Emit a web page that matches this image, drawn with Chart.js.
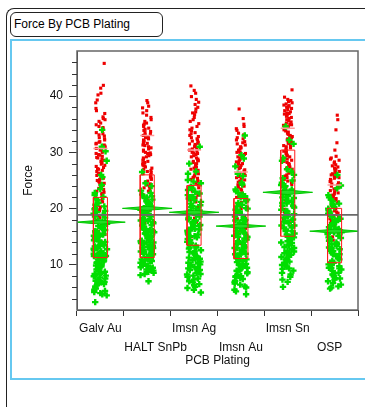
<!DOCTYPE html>
<html>
<head>
<meta charset="utf-8">
<script src="https://cdn.jsdelivr.net/npm/chart.js@4.4.1/dist/chart.umd.min.js"></script>
<style>
  body{margin:0;background:#fff;font-family:"Liberation Sans",Arial,sans-serif;}
  #wrap{position:relative;width:365px;height:407px;overflow:hidden;}
  #outer{position:absolute;left:6px;top:8px;width:420px;height:430px;border-left:1px solid #222;border-top:1px solid #222;border-top-left-radius:8px;}
  #ttl{position:absolute;left:10px;top:12px;width:148px;height:23px;border:1px solid #222;border-radius:6px;font-size:12px;line-height:23px;padding-left:3px;color:#000;}
  #panel{position:absolute;left:10px;top:39px;width:420px;height:337px;border:2px solid #66c8f0;}
  #box{position:absolute;left:0;top:0;width:365px;height:407px;}
</style>
</head>
<body>
<div id="wrap">
  <div id="outer"></div>
  <div id="ttl">Force By PCB Plating</div>
  <div id="panel"></div>
  <div id="box"><canvas id="myChart"></canvas></div>
</div>
<script>
var categories = ["Galv Au", "HALT SnPb", "Imsn Ag", "Imsn Au", "Imsn Sn", "OSP"]
var tickLabels = [["Galv Au", ""], ["", "     HALT SnPb"], ["Imsn Ag", ""], ["", "Imsn Au"], ["Imsn Sn", ""], ["", "OSP   "]]
var yMin = 2
var yMax = 48

var galvRed = [45.8, 41.9, 41.4, 40.5, 40.2, 39.3, 38.8, 37.8, 37.4, 36.3, 35.8, 35.5, 34.9, 34.2, 33.8, 33.5, 33.1, 32.6, 32.2, 31.8, 31.5, 31.1, 30.7, 30.4, 30.0, 29.6, 29.3, 29.0, 28.6, 28.2, 27.9, 27.5, 27.0, 26.6, 26.1, 25.7, 25.2, 24.8, 24.3, 23.9, 23.4, 22.9, 22.5, 21.8, 21.2, 20.6, 19.9, 19.2, 18.4, 17.6, 16.5, 15.4, 14.2,
    36.9, 36.0, 35.2, 34.6, 33.3, 32.9, 32.4, 31.9, 31.3, 30.9, 30.2, 29.8, 29.1, 28.8, 28.4, 27.7, 27.3, 26.8, 26.3, 25.9, 25.4, 25.0, 24.5, 24.1, 23.6, 23.1, 22.7, 22.2, 21.5, 20.9, 20.3, 19.6, 18.8, 18.0, 17.1, 16.0, 14.8, 13.0, 12.0, 34.4, 31.6, 29.5, 27.1, 24.6]
var galvGreen = [34.0, 31.0, 28.5, 26.0, 24.2, 23.5, 22.8, 22.1, 21.5, 21.0, 20.4, 19.9, 19.4, 18.9, 18.4, 17.9, 17.5, 17.0, 16.6, 16.2, 15.8, 15.4, 15.0, 14.6, 14.2, 13.8, 13.4, 13.0, 12.6, 12.2, 11.8, 11.4, 11.0, 10.6, 10.2, 9.8, 9.4, 9.0, 8.6, 8.2, 7.8, 7.4, 7.0, 6.6, 6.2, 5.8, 5.4, 5.0, 4.6, 3.4, 16.9, 15.1, 13.3, 12.1, 10.9, 9.7, 8.4, 7.1, 14.4, 11.6,
    21.8, 20.7, 19.6, 18.6, 17.7, 16.8, 16.4, 16.0, 15.6, 15.2, 14.8, 14.0, 13.6, 13.2, 12.8, 12.4, 12.0, 11.6, 11.2, 10.8, 10.4, 10.0, 9.6, 9.2, 8.8, 8.4, 8.0, 7.6, 7.2, 6.8, 6.4, 6.0, 5.6, 5.2, 4.8, 17.3, 15.9, 14.1, 12.9, 11.7, 10.5, 9.3, 8.1, 6.9, 19.1, 20.1, 22.4, 25.6, 30.2, 13.5, 11.3, 9.9]
var haltRed = [39.2, 38.8, 37.9, 37.0, 36.2, 35.5, 35.0, 34.6, 34.1, 33.7, 33.2, 32.8, 32.4, 32.0, 31.6, 31.2, 30.8, 30.4, 30.0, 29.6, 29.2, 28.8, 28.4, 27.9, 27.6, 27.2, 26.8, 26.4, 26.0, 25.6, 25.2, 24.7, 24.2, 23.7, 23.1, 22.5, 21.8, 21.0, 20.2, 19.3, 18.4, 17.4,
    38.2, 37.4, 36.6, 35.8, 35.2, 34.8, 34.3, 33.9, 33.5, 33.0, 32.6, 32.2, 31.8, 31.4, 31.0, 30.6, 30.2, 29.8, 29.4, 29.0, 28.6, 28.2, 27.7, 27.4, 27.0, 26.6, 26.2, 25.8, 25.4, 24.9, 24.4, 23.9, 23.4, 22.8, 22.1, 21.4, 20.6, 19.7, 18.8, 17.9, 16.5, 15.2, 33.1, 31.3, 29.9, 28.1]
var haltGreen = [26.5, 24.0, 23.2, 22.5, 21.9, 21.3, 20.8, 20.3, 19.8, 19.3, 18.8, 18.3, 17.8, 17.4, 17.0, 16.6, 16.2, 15.8, 15.4, 15.0, 14.6, 14.2, 13.8, 13.4, 13.0, 12.6, 12.2, 11.8, 11.4, 11.0, 10.6, 10.2, 9.8, 9.4, 9.0, 8.6, 8.2, 7.1, 17.2, 15.6, 14.0, 12.4, 10.8, 9.2, 13.1, 11.9, 16.0, 18.0, 20.0, 22.0,
    24.5, 22.8, 22.2, 21.6, 21.0, 20.5, 20.1, 19.6, 19.1, 18.6, 18.1, 17.6, 17.1, 16.8, 16.4, 16.0, 15.6, 15.2, 14.8, 14.4, 14.0, 13.6, 13.2, 12.8, 12.4, 12.0, 11.6, 11.2, 10.8, 10.4, 10.0, 9.6, 9.2, 8.8, 8.4, 15.9, 14.3, 12.7, 11.1, 9.5, 13.9, 12.3, 10.7, 17.9, 19.5, 21.1, 16.3, 14.7]
var agRed = [41.8, 41.0, 40.5, 39.9, 38.9, 38.5, 37.7, 37.2, 36.7, 35.8, 35.5, 34.6, 34.0, 33.5, 33.0, 32.6, 32.2, 31.8, 31.4, 31.0, 30.6, 30.2, 29.8, 29.4, 29.0, 28.6, 28.2, 27.8, 27.4, 27.0, 26.6, 26.2, 25.8, 25.4, 25.0, 24.5, 24.0, 23.4, 22.8, 22.0, 21.2, 20.2, 19.0, 17.6, 16.2,
    39.4, 38.0, 37.0, 36.2, 35.1, 34.3, 33.8, 33.3, 32.8, 32.4, 32.0, 31.6, 31.2, 30.8, 30.4, 30.0, 29.6, 29.2, 28.8, 28.4, 28.0, 27.6, 27.2, 26.8, 26.4, 26.0, 25.6, 25.2, 24.8, 24.2, 23.7, 23.1, 22.4, 21.6, 20.7, 19.6, 18.3, 16.9, 15.0, 31.5, 29.9, 28.5, 27.1, 25.5]
var agGreen = [31.0, 28.0, 26.2, 24.8, 23.6, 23.0, 22.4, 21.8, 21.2, 20.6, 20.0, 19.4, 18.9, 18.4, 17.9, 17.4, 16.9, 16.4, 15.9, 15.4, 14.9, 14.4, 13.9, 13.4, 12.9, 12.4, 11.9, 11.4, 10.9, 10.4, 9.9, 9.4, 8.9, 8.4, 7.9, 7.4, 6.9, 6.4, 5.9, 5.1, 19.7, 17.1, 15.1, 13.1, 11.1, 9.1, 12.1, 14.1, 16.1, 10.1, 22.1, 24.5,
    26.6, 25.1, 23.9, 23.3, 22.7, 22.1, 21.5, 20.9, 20.3, 19.7, 19.1, 18.6, 18.1, 17.6, 17.1, 16.6, 16.1, 15.6, 15.1, 14.6, 14.1, 13.6, 13.1, 12.6, 12.1, 11.6, 11.1, 10.6, 10.1, 9.6, 9.1, 8.6, 8.1, 7.6, 7.1, 6.6, 6.1, 5.6, 18.3, 16.3, 14.3, 12.3, 10.3, 8.3, 15.3, 13.3, 11.3, 9.3, 20.5]
var auRed = [37.7, 35.0, 34.6, 33.9, 33.4, 32.6, 32.2, 31.7, 31.3, 30.8, 30.4, 30.0, 29.6, 29.2, 28.7, 28.3, 27.9, 27.5, 27.1, 26.7, 26.3, 25.9, 25.5, 25.1, 24.7, 24.3, 23.8, 23.3, 22.8, 22.3, 21.7, 21.1, 20.4, 19.6, 18.7, 17.7, 16.5, 15.2, 13.8,
    36.0, 34.2, 33.1, 32.4, 31.9, 31.5, 31.0, 30.6, 30.2, 29.8, 29.4, 29.0, 28.5, 28.1, 27.7, 27.3, 26.9, 26.5, 26.1, 25.7, 25.3, 24.9, 24.5, 24.0, 23.5, 23.0, 22.5, 22.0, 21.4, 20.8, 20.0, 19.2, 18.2, 17.2, 16.0, 14.5, 12.8, 30.0, 28.0, 26.0, 24.2]
var auGreen = [33.0, 29.5, 27.5, 25.8, 24.3, 23.1, 22.5, 21.9, 21.3, 20.7, 20.1, 19.5, 18.9, 18.3, 17.7, 17.2, 16.7, 16.2, 15.7, 15.2, 14.7, 14.2, 13.7, 13.2, 12.7, 12.2, 11.7, 11.2, 10.7, 10.2, 9.7, 9.2, 8.7, 8.2, 7.7, 7.2, 6.7, 6.2, 5.6, 4.8, 18.0, 16.0, 14.0, 12.0, 10.0, 8.0, 13.0, 11.0, 15.0, 9.0, 20.0, 22.0,
    28.9, 26.2, 24.6, 23.4, 22.8, 22.2, 21.6, 21.0, 20.4, 19.8, 19.2, 18.6, 18.0, 17.5, 17.0, 16.5, 16.0, 15.5, 15.0, 14.5, 14.0, 13.5, 13.0, 12.5, 12.0, 11.5, 11.0, 10.5, 10.0, 9.5, 9.0, 8.5, 8.0, 7.5, 7.0, 6.5, 6.0, 5.3, 17.9, 15.9, 13.9, 11.9, 9.9, 7.9, 12.9, 10.9, 14.9, 8.9]
var snRed = [41.1, 39.4, 39.0, 38.6, 38.3, 38.0, 37.6, 37.2, 36.8, 36.4, 36.0, 35.6, 35.2, 34.8, 34.4, 34.0, 33.6, 33.2, 32.8, 32.4, 32.0, 31.6, 31.2, 30.8, 30.4, 30.0, 29.6, 29.2, 28.8, 28.4, 28.0, 27.6, 27.2, 26.8, 26.3, 25.8, 25.2, 24.6, 23.9, 23.2, 22.4, 21.5, 20.5, 19.4, 18.2, 16.8,
    39.8, 39.2, 38.8, 38.4, 38.1, 37.8, 37.4, 37.0, 36.6, 36.2, 35.8, 35.4, 35.0, 34.6, 34.2, 33.8, 33.4, 33.0, 32.6, 32.2, 31.8, 31.4, 31.0, 30.6, 30.2, 29.8, 29.4, 29.0, 28.6, 28.2, 27.8, 27.4, 27.0, 26.5, 26.0, 25.5, 24.9, 24.3, 23.6, 22.8, 21.9, 21.0, 19.9, 18.8, 17.5, 36.9, 34.9, 32.9, 30.9]
var snGreen = [34.6, 31.5, 29.0, 27.0, 25.4, 24.6, 23.8, 23.0, 22.3, 21.6, 20.9, 20.2, 19.5, 18.8, 18.1, 17.4, 16.7, 16.0, 15.3, 14.6, 13.9, 13.2, 12.5, 11.8, 11.1, 10.4, 9.7, 9.0, 8.3, 7.4, 6.1, 21.0, 19.0, 17.0, 15.0, 13.0, 11.0, 9.4, 24.0, 26.0, 22.0, 18.0, 14.0, 12.0, 16.5, 20.5, 10.0,
    32.2, 28.5, 26.6, 25.0, 24.2, 23.4, 22.6, 21.9, 21.2, 20.5, 19.8, 19.1, 18.4, 17.7, 17.0, 16.3, 15.6, 14.9, 14.2, 13.5, 12.8, 12.1, 11.4, 10.7, 10.0, 9.3, 8.6, 7.9, 7.0, 21.4, 19.6, 17.8, 16.0, 14.2, 12.4, 10.6, 23.2, 18.6, 15.4, 13.6, 11.8]
var ospRed = [36.6, 35.8, 34.0, 31.7, 30.4, 29.3, 28.8, 28.3, 27.8, 27.4, 27.0, 26.6, 26.2, 25.8, 25.4, 25.0, 24.6, 24.2, 23.8, 23.4, 23.0, 22.6, 22.2, 21.8, 21.4, 21.0, 20.6, 20.2, 19.8, 19.4, 19.0, 18.5, 18.0, 17.4, 16.8, 16.0, 15.0, 13.8, 12.4,
    29.0, 28.6, 28.1, 27.6, 27.2, 26.8, 26.4, 26.0, 25.6, 25.2, 24.8, 24.4, 24.0, 23.6, 23.2, 22.8, 22.4, 22.0, 21.6, 21.2, 20.8, 20.4, 20.0, 19.6, 19.2, 18.7, 18.2, 17.7, 17.1, 16.4, 15.5, 14.4, 13.0, 11.6, 25.5, 23.5, 21.5, 19.5]
var ospGreen = [26.0, 23.6, 22.0, 21.3, 20.6, 20.0, 19.4, 18.8, 18.2, 17.6, 17.0, 16.4, 15.8, 15.2, 14.6, 14.0, 13.4, 12.8, 12.2, 11.6, 11.0, 10.4, 9.8, 9.2, 8.6, 8.0, 7.4, 6.8, 6.2, 5.8, 17.3, 15.5, 13.7, 11.9, 10.1, 8.3, 14.3, 12.5, 16.1, 9.5, 19.1, 20.9,
    24.1, 22.4, 21.6, 20.9, 20.3, 19.7, 19.1, 18.5, 17.9, 17.3, 16.7, 16.1, 15.5, 14.9, 14.3, 13.7, 13.1, 12.5, 11.9, 11.3, 10.7, 10.1, 9.5, 8.9, 8.3, 7.7, 7.1, 6.5, 6.0, 16.6, 14.8, 13.0, 11.2, 9.4, 7.6, 15.8, 12.0, 10.4, 18.2, 8.6]

var q1 = [11.3, 11.3, 13.5, 11.15, 15.1, 10.4]
var q3 = [22.0, 26.0, 24.1, 21.8, 30.4, 20.05]
var q90 = [30.7, 33.0, 30.4, 26.5, 34.3, 24.2]
var means = [17.6, 20.05, 19.35, 16.9, 22.9, 16.0]
var meanCI = [0.35, 0.35, 0.35, 0.35, 0.4, 0.35]
var grandMean = 18.9

var redSets = [galvRed, haltRed, agRed, auRed, snRed, ospRed]
var greenSets = [galvGreen, haltGreen, agGreen, auGreen, snGreen, ospGreen]

// spread the points sideways inside each column (fixed hash, same every run)
function jitter(i, g, seed, amp){
    var s = Math.sin(i * 12.9898 + g * 78.233 + seed) * 43758.5453
    var f = s - Math.floor(s)
    return (f - 0.5) * 2 * amp
}

var redPts = []
var greenPts = []
redSets.forEach(function(arr, g){
    arr.forEach(function(v, i){ redPts.push({x: g + 0.5 + jitter(i, g, 1.3, 0.1), y: v}) })
})
greenSets.forEach(function(arr, g){
    arr.forEach(function(v, i){ greenPts.push({x: g + 0.5 + jitter(i, g, 7.1, 0.15), y: v}) })
})

var boxPts = []
var p90Pts = []
var bw = 0.15
categories.forEach(function(c, g){
    var cx = g + 0.5
    boxPts.push({x: cx - bw, y: q1[g]}, {x: cx + bw, y: q1[g]}, {x: cx + bw, y: q3[g]}, {x: cx - bw, y: q3[g]}, {x: cx - bw, y: q1[g]}, {x: cx, y: null})
    p90Pts.push({x: cx - bw, y: q90[g]}, {x: cx + bw, y: q90[g]}, {x: cx, y: null})
})

var datasets = []
datasets.push({type: 'line', data: boxPts, borderColor: '#ff1a1a', borderWidth: 1, pointRadius: 0, spanGaps: false, order: 0})
datasets.push({type: 'line', data: p90Pts, borderColor: '#ff9a9a', borderWidth: 1.5, pointRadius: 0, spanGaps: false, order: 0})
means.forEach(function(m, g){
    var cx = g + 0.5, hw = 0.53, h = meanCI[g]
    datasets.push({
        type: 'line',
        data: [{x: cx - hw, y: m}, {x: cx, y: m + h}, {x: cx + hw, y: m}, {x: cx, y: m - h}, {x: cx - hw, y: m}],
        borderColor: '#00c800', backgroundColor: '#22dd22', borderWidth: 1, pointRadius: 0,
        fill: 'shape', tension: 0, order: 1
    })
})
datasets.push({type: 'line', data: [{x: 0, y: grandMean}, {x: 6, y: grandMean}], borderColor: '#6a6a6a', borderWidth: 1.6, pointRadius: 0, order: 2})
datasets.push({type: 'scatter', data: greenPts, pointStyle: 'cross', pointRadius: 3.2, borderWidth: 2.4, borderColor: '#00dd00', backgroundColor: '#00dd00', order: 3})
datasets.push({type: 'scatter', data: redPts, pointStyle: 'rect', pointRadius: 2.2, borderWidth: 0, backgroundColor: '#ee0000', borderColor: '#ee0000', order: 4})

var framePlugin = {
    id: 'frame',
    afterDraw: function(chart){
        var ctx = chart.ctx, a = chart.chartArea, ys = chart.scales.y
        ctx.save()
        ctx.strokeStyle = '#666'
        ctx.lineWidth = 1.5
        ctx.strokeRect(a.left, a.top, a.right - a.left, a.bottom - a.top)
        ctx.strokeStyle = '#333'
        ctx.lineWidth = 1
        ys.ticks.forEach(function(t){
            if (t.value % 10 === 0 || t.value <= yMin || t.value >= yMax) return
            var py = Math.round(ys.getPixelForValue(t.value)) + 0.5
            ctx.beginPath()
            ctx.moveTo(a.left - 5, py)
            ctx.lineTo(a.left, py)
            ctx.stroke()
        })
        ctx.restore()
    }
}

var font = {family: '"Liberation Sans", Arial, sans-serif', size: 12}

var chart = new Chart(document.getElementById("myChart").getContext('2d'), {
    type: 'scatter',
    data: {datasets: datasets},
    options: {
        responsive: true,
        maintainAspectRatio: false,
        animation: false,
        layout: {padding: {left: 17, top: 51, right: 7, bottom: 35}},
        plugins: {legend: {display: false}, tooltip: {enabled: false}},
        scales: {
            x: {
                type: 'linear', min: 0, max: 6,
                afterBuildTicks: function(s){ s.ticks = categories.map(function(c, i){ return {value: i + 0.5} }) },
                afterFit: function(s){ s.height = 62 },
                grid: {drawOnChartArea: false, offset: true, tickLength: 6, color: '#333'},
                border: {color: '#333', width: 1},
                ticks: {
                    autoSkip: false, maxRotation: 0, minRotation: 0, padding: 3, color: '#111',
                    font: {family: font.family, size: 12, lineHeight: 1.58},
                    callback: function(v){ return tickLabels[Math.floor(v)] }
                },
                title: {display: true, text: 'PCB Plating', color: '#111', font: font, padding: {top: 0, bottom: 4}}
            },
            y: {
                min: yMin, max: yMax,
                afterFit: function(s){ s.width = 60 },
                grid: {
                    drawOnChartArea: false, tickLength: 8,
                    tickColor: function(c){ return c.tick && c.tick.value % 10 === 0 ? '#333' : 'rgba(0,0,0,0)' }
                },
                border: {color: '#333', width: 1},
                ticks: {
                    stepSize: 2, autoSkip: false, padding: 6, color: '#111', font: font,
                    callback: function(v){ return v % 10 === 0 ? v : '' }
                },
                title: {display: true, text: 'Force', color: '#111', font: font, padding: {top: 4, bottom: 0}}
            }
        }
    },
    plugins: [framePlugin]
})
</script>
</body>
</html>
